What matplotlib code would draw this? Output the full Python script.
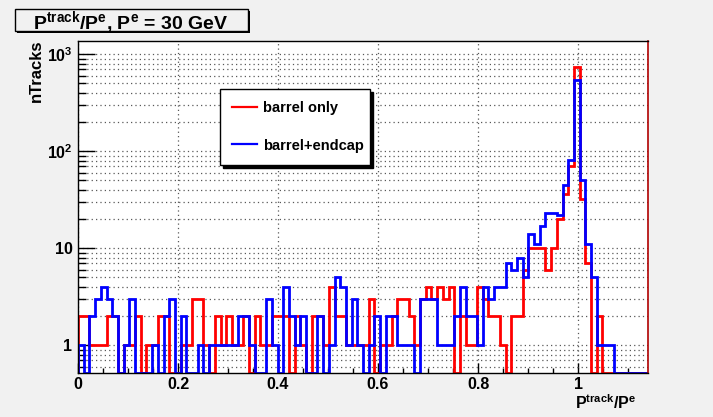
import numpy as np
import matplotlib
matplotlib.use("Agg")
import matplotlib.pyplot as plt
from matplotlib.patches import Rectangle
from matplotlib.ticker import FixedLocator, MultipleLocator, FuncFormatter, LogLocator, NullFormatter

plt.rcParams["font.family"] = ["Liberation Sans", "DejaVu Sans"]
plt.rcParams["font.weight"] = "bold"
plt.rcParams["mathtext.fontset"] = "custom"
plt.rcParams["mathtext.rm"] = "Liberation Sans:bold"
plt.rcParams["mathtext.bf"] = "Liberation Sans:bold"
plt.rcParams["mathtext.it"] = "Liberation Sans:bold"
plt.rcParams["mathtext.default"] = "bf"

# histogram binning: 100 bins from 0 to 1.14
x_min, x_max, n_bins = 0.0, 1.14, 100

# counts per bin
barrel_only = [
    2, 2, 1, 1, 1, 2, 2, 0, 1, 1,
    2, 0, 1, 1, 2, 2, 0, 0, 1, 1,
    3, 3, 1, 0, 2, 1, 2, 1, 1, 2,
    0, 2, 1, 1, 2, 2, 2, 0, 2, 1,
    0, 2, 2, 1, 4, 2, 2, 1, 1, 1,
    1, 3, 0, 1, 1, 2, 3, 3, 2, 1,
    3, 4, 3, 4, 3, 4, 0, 2, 1, 1,
    4, 3, 2, 2, 1, 0, 2, 2, 6, 10,
    10, 10, 6, 10, 20, 36, 71, 745, 32, 7,
    0, 2, 0, 0, 0, 0, 0, 0, 0, 0,
]
barrel_endcap = [
    1, 0, 2, 3, 4, 3, 2, 0, 1, 3,
    0, 0, 0, 1, 0, 2, 3, 0, 2, 0,
    0, 1, 0, 1, 1, 1, 1, 1, 2, 2,
    1, 0, 0, 3, 1, 0, 4, 2, 1, 2,
    0, 0, 2, 0, 1, 5, 4, 1, 3, 1,
    0, 1, 2, 0, 2, 2, 1, 1, 1, 0,
    3, 3, 3, 1, 1, 1, 2, 4, 2, 2,
    1, 4, 3, 4, 4, 7, 6, 8, 5, 14,
    11, 17, 23, 23, 22, 45, 82, 541, 51, 11,
    5, 1, 1, 1, 0, 0, 0, 0, 0, 0,
]
labels = ["barrel only", "barrel+endcap"]
colors = ["#ff0000", "#0000ff"]

y_lo, y_hi = 0.518, 1371
edges = np.linspace(x_min, x_max, n_bins + 1)

W, H = 713, 417
bg = "#f1f1f1"
fig = plt.figure(figsize=(W / 100, H / 100), dpi=100, facecolor=bg)
ax = fig.add_axes([78 / W, 1 - 373 / H, 570 / W, 332 / H])
ax.set_yscale("log")
ax.set_xlim(x_min, x_max)
ax.set_ylim(y_lo, y_hi)

# empty bins are drawn on the bottom of the frame, like ROOT does
for counts, lab, col in zip([barrel_only, barrel_endcap], labels, colors):
    v = np.array(counts, dtype=float)
    v = np.where(v > 0, v, y_lo)
    ax.stairs(v, edges, baseline=y_lo, color=col, lw=2, label=lab)

# axes, ticks
ax.xaxis.set_major_locator(MultipleLocator(0.2))
ax.xaxis.set_minor_locator(MultipleLocator(0.05))
ax.xaxis.set_major_formatter(FuncFormatter(lambda v, p: f"{v:g}"))
ax.yaxis.set_major_locator(FixedLocator([1, 10, 100, 1000]))
ax.yaxis.set_major_formatter(FuncFormatter(
    lambda v, p: {1: "1", 10: "10", 100: r"$10^{2}$", 1000: r"$10^{3}$"}.get(int(round(v)), "")))
ax.yaxis.set_minor_locator(LogLocator(base=10, subs=np.arange(2, 10)))
ax.yaxis.set_minor_formatter(NullFormatter())

ax.tick_params(axis="x", which="major", direction="in", length=7.2, width=1, labelsize=11.5, pad=3)
ax.tick_params(axis="x", which="minor", direction="in", length=3.6, width=1)
ax.tick_params(axis="y", which="major", direction="in", length=12.3, width=1, labelsize=11.5, pad=4)
ax.tick_params(axis="y", which="minor", direction="in", length=6, width=1)

ax.grid(axis="x", which="major", color="0.35", linestyle=(0, (1, 2.5)), lw=0.9)
ax.grid(axis="y", which="both", color="0.35", linestyle=(0, (1, 2.5)), lw=0.9)
ax.set_axisbelow(True)

for s in ["left", "bottom", "top"]:
    ax.spines[s].set_color("black")
    ax.spines[s].set_linewidth(1)
ax.spines["right"].set_color("#b00000")
ax.spines["right"].set_linewidth(1.2)

# axis titles
fig.text(36 / W, 1 - 40 / H, "nTracks", rotation=90, ha="center", va="top", fontsize=12)
fig.text(636 / W, 1 - 409 / H, r"P$^{track}$/P$^{e}$", ha="right", va="baseline", fontsize=11.5)

# title box with shadow
fig.patches.append(Rectangle((17 / W, 1 - 33 / H), 233 / W, 22 / H, transform=fig.transFigure,
                             facecolor="black", edgecolor="none", zorder=5))
fig.patches.append(Rectangle((15 / W, 1 - 31 / H), 233 / W, 22 / H, transform=fig.transFigure,
                             facecolor=bg, edgecolor="black", lw=1, zorder=6))
fig.text(131 / W, 1 - 29 / H, r"P$^{track}$/P$^{e}$, P$^{e}$ = 30 GeV",
         ha="center", va="baseline", fontsize=14, zorder=7)

# legend
leg = ax.legend(loc="upper left", bbox_to_anchor=(220 / W, 1 - 93 / H, 150 / W, 0.01),
                bbox_transform=fig.transFigure, mode="expand", fontsize=10.5,
                frameon=True, fancybox=False, edgecolor="black", facecolor="white", framealpha=1,
                shadow={"color": "black", "alpha": 1}, borderpad=0.85, labelspacing=1.6,
                handlelength=1.7, handletextpad=0.4, borderaxespad=0)
leg.get_frame().set_linewidth(1)
for h in leg.legend_handles:
    h.set_linewidth(1.6)

fig.savefig("out.png", dpi=100, facecolor=bg)
